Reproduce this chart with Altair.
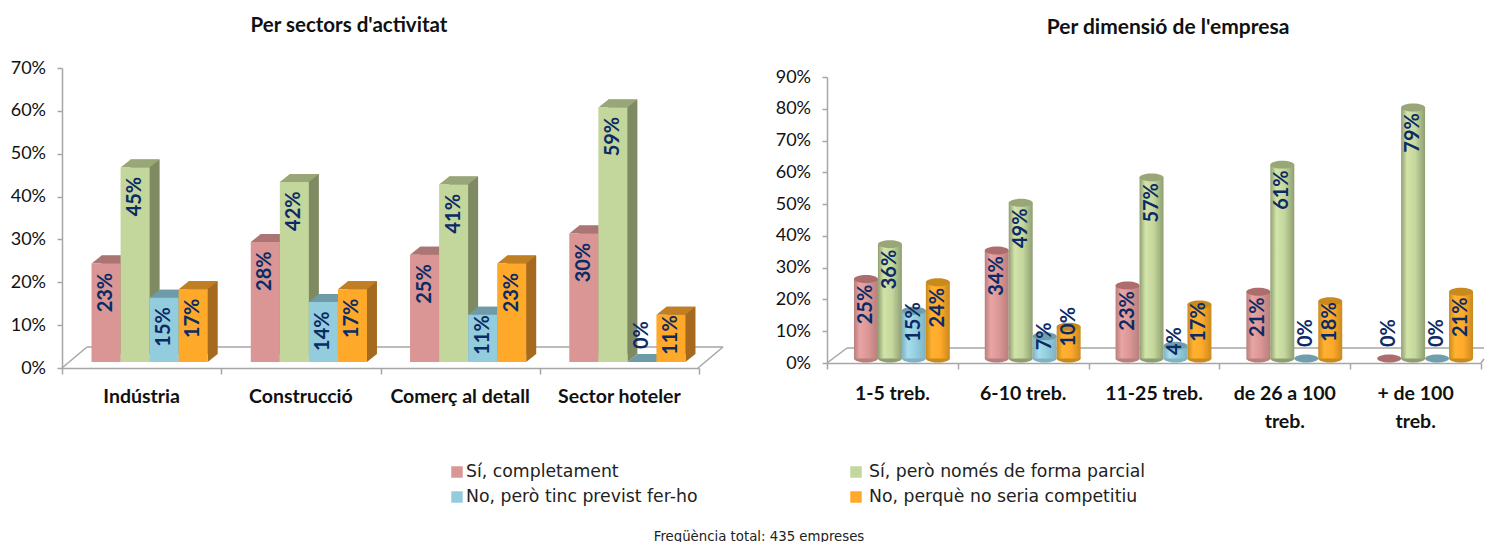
import altair as alt
import pandas as pd

series = ["Sí, completament", "Sí, però només de forma parcial",
          "No, però tinc previst fer-ho", "No, perquè no seria competitiu"]

sectors = ["Indústria", "Construcció", "Comerç al detall", "Sector hoteler"]
sector_values = [
    [23, 45.4, 15, 17],
    [28, 42, 14, 17],
    [25, 41.4, 11, 23],
    [30, 59.4, 0, 11],
]

sizes = ["1-5 treb.", "6-10 treb.", "11-25 treb.", "de 26 a 100|treb.", "+ de 100|treb."]
size_values = [
    [25, 36, 15, 24],
    [34, 49, 7, 10],
    [23, 57, 4, 17],
    [21, 61, 0, 18],
    [0, 79, 0, 21],
]

front = ["#D99694", "#C3D69B", "#93CDDD", "#FFA92B"]
side = ["#9E6C6A", "#7F8A62", "#6B95A2", "#A56A1E"]
cap = ["#AA7573", "#98A678", "#6F9AA8", "#BF7F22"]
cyl_edge = ["#B87F7D", "#8F9E72", "#7FB2C3", "#C98A1D"]
cyl_mid = ["#E8A5A3", "#D3E4A9", "#A8DDEC", "#FFB22F"]
cyl_top = ["#AC6D6C", "#98A678", "#6F9EAD", "#C98A1D"]

GREY = "#A6A6A6"
NAVY = "#0B2A66"
LABEL_FONT = "Lato"


def frame(cats, rows, rule, start, width):
    """start/width are fractions of one category step."""
    out = []
    for g, (c, row) in enumerate(zip(cats, rows)):
        for i, (s, v) in enumerate(zip(series, row)):
            x0 = g + start + i * width
            out.append({"cat": c, "s": s, "v": v, "lab": f"{round(v)}%", "lv": rule(v),
                        "x0": x0, "x1": x0 + width, "xc": x0 + width / 2, "zero": 0})
    return pd.DataFrame(out)


def left_rule(v):
    return max(v - 6.8, 6.3)


def right_rule(v):
    if v == 0:
        return 8
    if v < 12:
        return max(v, 5.5)
    return max(v - 8, 11.5)


df_l = frame(sectors, sector_values, left_rule, 22 / 159, 29 / 159)
df_r = frame(sizes, size_values, right_rule, 17.5 / 131, 24 / 131)
one = pd.DataFrame({"a": [0]})


def line(x0, x1, y0, y1):
    return alt.Chart(one).mark_rule(color=GREY, strokeWidth=1.5).encode(
        x=alt.value(x0), x2=alt.value(x1), y=alt.value(y0), y2=alt.value(y1))


def text_at(x, y, txt, **kw):
    return alt.Chart(pd.DataFrame({"t": [txt]})).mark_text(**kw).encode(
        x=alt.value(x), y=alt.value(y), text="t:N")


def scales(n, dom, rng, ticks):
    xax = alt.Axis(title=None, values=list(range(n + 1)), labels=False, domainColor=GREY, domainWidth=1.5,
                   tickColor=GREY, tickWidth=1.5, tickSize=6, grid=False)
    yax = alt.Axis(title=None, values=ticks, labelExpr="datum.value + '%'", domainColor=GREY, domainWidth=1.5,
                   tickColor=GREY, tickWidth=1.5, tickSize=5, labelFont=LABEL_FONT, labelFontSize=18,
                   labelColor="#111111", labelPadding=11.5, grid=False)
    xs = alt.Scale(domain=[0, n], nice=False, zero=False, padding=0)
    ys = alt.Scale(domain=dom, range=rng, nice=False)

    def X(f):
        return alt.X(f"{f}:Q", scale=xs, axis=xax)

    def Y(f):
        return alt.Y(f"{f}:Q", scale=ys, axis=yax, stack=None)

    return X, Y


def cat_labels(cats):
    return pd.DataFrame({"cat": cats, "xm": [i + 0.5 for i in range(len(cats))]})


# ------- left panel: boxes
LX, LY, DX, DY = 7.5, -6, 10, -8
CAP = "M-1,0 L-0.31,-0.552 L1.69,-0.552 L1,0 Z"
FOOT = "M1,0 L1.69,-0.552 L1,-0.552 Z"

X, Y = scales(4, [0, 70], [300, 0], list(range(0, 71, 10)))
layers_l = [line(0, 25, 300, 279), line(25, 661, 279, 279), line(661, 636, 279, 300)]
for i, s in enumerate(series):
    c = alt.Chart(df_l[df_l.s == s])
    bar = dict(x=X("x0"), x2="x1:Q", y=Y("v"), y2="zero:Q")
    layers_l += [
        c.mark_bar(color=side[i], orient="vertical", xOffset=LX + DX, x2Offset=LX + DX, yOffset=LY + DY,
                   y2Offset=LY + DY).encode(**bar),
        c.mark_point(shape=FOOT, size=841, filled=True, opacity=1, color=side[i], strokeWidth=0,
                     xOffset=LX, yOffset=LY).encode(x=X("xc"), y=Y("zero")),
        c.mark_point(shape=CAP, size=841, filled=True, opacity=1, color=cap[i], strokeWidth=0,
                     xOffset=LX, yOffset=LY).encode(x=X("xc"), y=Y("v")),
        c.mark_bar(color=front[i], orient="vertical", xOffset=LX, x2Offset=LX, yOffset=LY, y2Offset=LY).encode(**bar),
    ]
layers_l.append(alt.Chart(df_l).mark_text(angle=270, font=LABEL_FONT, fontWeight="bold", fontSize=20, color=NAVY,
                                          xOffset=LX, yOffset=LY, baseline="middle", align="center").encode(
    x=X("xc"), y=Y("lv"), text="lab:N"))
layers_l.append(alt.Chart(cat_labels(sectors)).mark_text(
    font=LABEL_FONT, fontWeight="bold", fontSize=19.5, color="#111111", baseline="middle", lineBreak="|",
    lineHeight=28).encode(x=X("xm"), y=alt.value(329), text="cat:N"))
layers_l.append(text_at(287, -42, "Per sectors d'activitat", font=LABEL_FONT, fontWeight="bold", fontSize=20.5,
                        color="#111111", align="center", baseline="middle"))

# legend and footer, placed under the two panels
leg_sq = [395, 794, 395, 794]
leg_tx = [404, 807, 404, 807]
leg_y = [404, 404, 429, 429]
for i, s in enumerate(series):
    layers_l.append(alt.Chart(one).mark_square(color=front[i], size=132, opacity=1).encode(
        x=alt.value(leg_sq[i]), y=alt.value(leg_y[i])))
    layers_l.append(text_at(leg_tx[i], leg_y[i], s, font="DejaVu Sans", fontSize=17.3, color="#222222",
                            align="left", baseline="middle"))
layers_l.append(text_at(697, 469, "Freqüència total: 435 empreses", font="DejaVu Sans", fontSize=13.3,
                        color="#222222", align="center", baseline="middle"))

left = alt.layer(*layers_l).properties(width=637, height=300)

# ------- right panel: cylinders
RX, RY = 9.5, -4.5
ELL = "M-1,0 A1,0.33 0 1,1 1,0 A1,0.33 0 1,1 -1,0 Z"

X, Y = scales(5, [0, 90], [295, 9], list(range(0, 91, 10)))
layers_r = [line(0, 20, 295, 280), line(20, 657, 280, 280), line(654, 657, 295, 291)]
for i, s in enumerate(series):
    c = alt.Chart(df_r[df_r.s == s])
    grad = alt.LinearGradient(gradient="linear", x1=0, x2=1, y1=0, y2=0, stops=[
        alt.GradientStop(color=cyl_edge[i], offset=0),
        alt.GradientStop(color=cyl_mid[i], offset=0.25),
        alt.GradientStop(color=front[i], offset=0.6),
        alt.GradientStop(color=cyl_edge[i], offset=1),
    ])
    layers_r += [
        c.transform_filter("datum.v > 0").mark_point(shape=ELL, size=576, filled=True, opacity=1, color=cyl_edge[i],
                                                     strokeWidth=0, xOffset=RX, yOffset=RY).encode(
            x=X("xc"), y=Y("zero")),
        c.mark_bar(color=grad, orient="vertical", xOffset=RX, x2Offset=RX, yOffset=RY, y2Offset=RY).encode(
            x=X("x0"), x2="x1:Q", y=Y("v"), y2="zero:Q"),
        c.mark_point(shape=ELL, size=576, filled=True, opacity=1, color=cyl_top[i], strokeWidth=0,
                     xOffset=RX, yOffset=RY).encode(x=X("xc"), y=Y("v")),
    ]
layers_r.append(alt.Chart(df_r).mark_text(angle=270, font=LABEL_FONT, fontWeight="bold", fontSize=20, color=NAVY,
                                          xOffset=RX, yOffset=RY, baseline="middle", align="center").encode(
    x=X("xc"), y=Y("lv"), text="lab:N"))
layers_r.append(alt.Chart(cat_labels(sizes)).mark_text(
    font=LABEL_FONT, fontWeight="bold", fontSize=19.5, color="#111111", baseline="top", lineBreak="|",
    lineHeight=28).encode(x=X("xm"), y=alt.value(317), text="cat:N"))
layers_r.append(text_at(341, -40, "Per dimensió de l'empresa", font=LABEL_FONT, fontWeight="bold", fontSize=21,
                        color="#111111", align="center", baseline="middle"))

right = alt.layer(*layers_r).properties(width=654, height=295)

chart = alt.hconcat(left, right, spacing=128, bounds="flush").properties(
    padding={"left": 2, "top": 8, "right": 0, "bottom": 0}
).configure_view(stroke=None)

chart.save("out.html", embed_options={"renderer": "svg", "actions": False})
